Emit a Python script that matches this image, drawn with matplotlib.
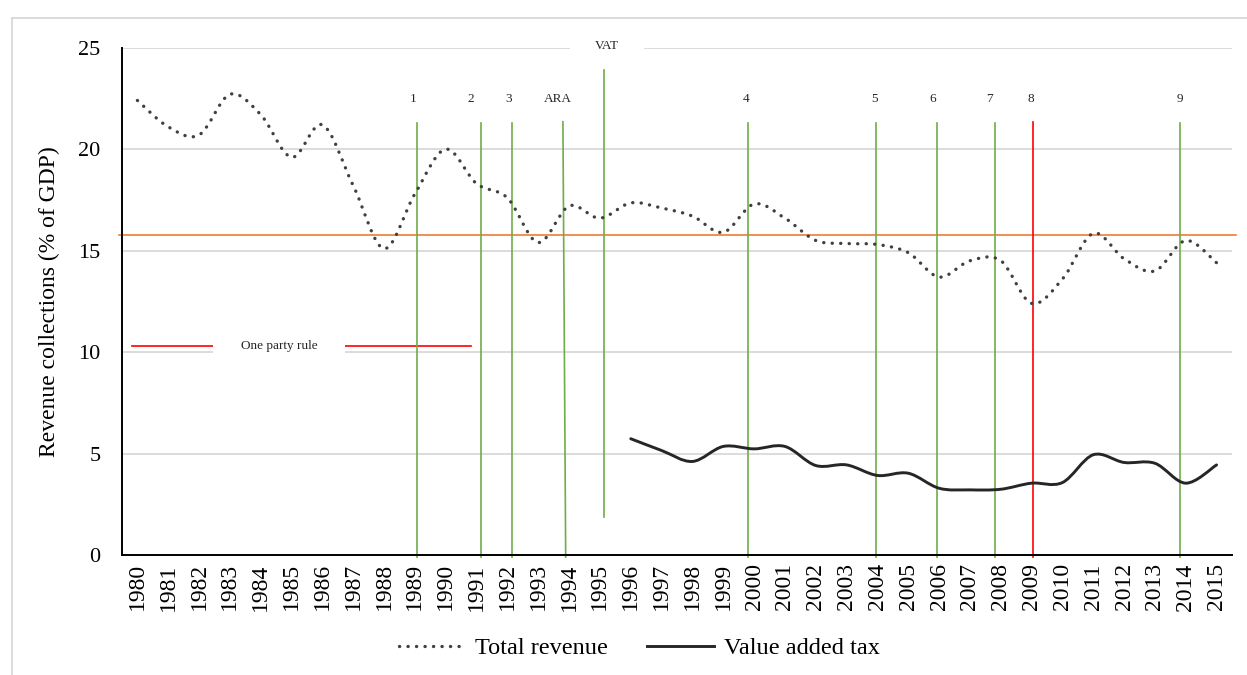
import numpy as np
import matplotlib
matplotlib.use("Agg")
import matplotlib.pyplot as plt
from matplotlib.path import Path
from matplotlib.patches import PathPatch
from matplotlib.lines import Line2D

plt.rcParams['font.family'] = ['Liberation Serif', 'DejaVu Serif']

years = list(range(1980, 2016))
total_revenue = [22.4, 21.1, 20.7, 22.7, 21.7, 19.6, 21.2, 18.2, 15.1, 17.8,
                 20.0, 18.3, 17.6, 15.4, 17.2, 16.6, 17.35, 17.1, 16.7, 15.9,
                 17.3, 16.6, 15.5, 15.35, 15.3, 14.9, 13.7, 14.5, 14.5, 12.4,
                 13.6, 15.85, 14.6, 14.0, 15.5, 14.4]
vat_years = list(range(1996, 2016))
vat = [5.73, 5.15, 4.61, 5.35, 5.23, 5.35, 4.41, 4.44, 3.92, 4.03,
       3.29, 3.21, 3.24, 3.54, 3.57, 4.94, 4.56, 4.52, 3.54, 4.44]

average_line = 15.76

# reform markers: label, x position (fractional year), label position
event_labels = ['1', '2', '3', 'ARA', '4', '5', '6', '7', '9']
event_years = [1989.07, 1991.13, 1992.15, 1993.80, 1999.81, 2003.95, 2005.93, 2007.82, 2013.80]
event_label_x = [1988.94, 1990.81, 1992.05, 1993.64, 1999.74, 2003.89, 2005.80, 2007.62, 2013.82]
crisis_year = 2009.04
crisis_label_x = 2008.97
vat_intro_year = 1995.13
vat_span = (1.88, 23.9)
one_party = (1979.815, 1990.83)


def smooth_path(xs, ys):
    # excel style smoothed line as cubic bezier
    pts = np.column_stack([xs, ys]).astype(float)
    ext = np.vstack([pts[0], pts, pts[-1]])
    verts = [pts[0]]
    codes = [Path.MOVETO]
    for i in range(len(pts) - 1):
        p0, p1, p2, p3 = ext[i], ext[i + 1], ext[i + 2], ext[i + 3]
        verts += [p1 + (p2 - p0) / 6, p2 - (p3 - p1) / 6, p2]
        codes += [Path.CURVE4] * 3
    return Path(verts, codes)


def xpos(y):
    return y - years[0]

fig = plt.figure(figsize=(12.47, 6.75), dpi=100)
ax = fig.add_axes([122 / 1247, 1 - 555 / 675, 1110 / 1247, (555 - 47.7) / 675])

# outer chart frame
fig.add_artist(Line2D([12 / 1247, 12 / 1247], [-0.1, 1 - 18 / 675], color='#d9d9d9', lw=1.3, transform=fig.transFigure))
fig.add_artist(Line2D([12 / 1247, 1.1], [1 - 18 / 675, 1 - 18 / 675], color='#d9d9d9', lw=1.3, transform=fig.transFigure))

ax.set_xlim(-0.5, len(years) - 0.5)
ax.set_ylim(0, 25)
ax.set_yticks([0, 5, 10, 15, 20, 25])
ax.set_xticks(range(len(years)))
ax.set_xticklabels([str(y) for y in years], rotation=90)
ax.grid(axis='y', color='#d9d9d9', lw=1.3)
ax.set_axisbelow(True)
for s in ['top', 'right']:
    ax.spines[s].set_visible(False)
ax.spines['left'].set_linewidth(1.4)
ax.spines['bottom'].set_linewidth(1.4)
ax.tick_params(axis='y', length=0, pad=15.5, labelsize=16)
ax.tick_params(axis='x', length=0, pad=6, labelsize=17)
ax.set_ylabel('Revenue collections (% of GDP)', fontsize=17)
ax.yaxis.set_label_coords(-0.056, 0.5)

# series
tr = PathPatch(smooth_path([xpos(y) for y in years], total_revenue), fill=False,
               edgecolor='#404040', lw=2.4, linestyle=(0, (0.05, 2.5)), capstyle='round', zorder=3)
ax.add_patch(tr)
vp = PathPatch(smooth_path([xpos(y) for y in vat_years], vat), fill=False,
               edgecolor='#262626', lw=2.1, capstyle='round', zorder=3)
ax.add_patch(vp)

# average line
ax.plot([-0.6, 35.63], [average_line, average_line], color='#ED7D31', lw=1.2, zorder=2, clip_on=False)

# reform lines
for lab, yr, lx in zip(event_labels, event_years, event_label_x):
    x = xpos(yr)
    if lab == 'ARA':
        ax.plot([x, x + 0.09], [21.35, -0.1], color='#70AD47', lw=1.2, zorder=2, clip_on=False)
    else:
        ax.plot([x, x], [21.31, -0.1], color='#70AD47', lw=1.2, zorder=2, clip_on=False)
    ax.text(xpos(lx), 22.46, lab, ha='center', va='center', fontsize=9.5, color='#262626')

ax.plot([xpos(crisis_year)] * 2, [21.35, -0.1], color='#FF0000', lw=1.2, zorder=2, clip_on=False)
ax.text(xpos(crisis_label_x), 22.46, '8', ha='center', va='center', fontsize=9.5, color='#262626')

# VAT introduction
ax.plot([xpos(vat_intro_year)] * 2, [vat_span[1], vat_span[0]], color='#70AD47', lw=1.2, zorder=2)
ax.text(xpos(1995.23), 25.09, 'VAT', ha='center', va='center', fontsize=9.5, color='#262626',
        bbox=dict(boxstyle='square,pad=1.9', fc='white', ec='none'), zorder=1.5, clip_on=False)

# one party rule
ax.plot([xpos(one_party[0]), xpos(one_party[1])], [10.3, 10.3], color='#FF0000', lw=1.2, zorder=1, clip_on=False)
ax.text(xpos(1984.6), 10.3, 'One party rule', ha='center', va='center', fontsize=9.5, color='#262626',
        bbox=dict(boxstyle='square,pad=2.1', fc='white', ec='none'), zorder=1.5)

handles = [Line2D([], [], color='#404040', lw=2.4, linestyle=(0, (0.05, 2.5)), dash_capstyle='round'),
           Line2D([], [], color='#262626', lw=2.1)]
fig.legend(handles, ['Total revenue', 'Value added tax'], loc='center', bbox_to_anchor=(639 / 1247, 1 - 648 / 675),
           ncol=2, frameon=False, fontsize=17.5, handlelength=2.75, handletextpad=0.4, columnspacing=1.6)

fig.savefig('out.png', dpi=100)
